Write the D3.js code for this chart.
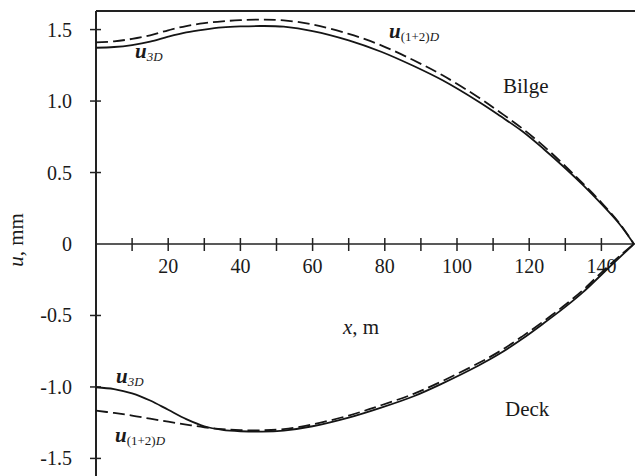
<!DOCTYPE html>
<html>
<head>
<meta charset="utf-8">
<script src="https://cdn.jsdelivr.net/npm/d3@7"></script>
<style>
  body { margin: 0; background: #fff; }
  svg { display: block; font-family: "Liberation Serif", "Times New Roman", serif; }
  .curve { fill: none; stroke: #151515; stroke-width: 1.8; }
  .dash { stroke-dasharray: 12,5; }
  text { fill: #1a1a1a; }
</style>
</head>
<body>
<div id="chart"></div>
<script>
// x positions along the hull (m)
var xs = [0, 5, 10, 15, 20, 25, 30, 35, 40, 46, 52, 60, 70, 79, 88, 96, 106, 112, 118, 124, 130, 135, 140, 145, 149];

// bilge displacement, mm
var bilge3D  = [1.373, 1.378, 1.392, 1.415, 1.45, 1.48, 1.50, 1.515, 1.522, 1.525, 1.52, 1.49, 1.425, 1.345, 1.245, 1.145, 0.995, 0.895, 0.79, 0.665, 0.53, 0.41, 0.28, 0.14, 0];
var bilge12D = [1.41, 1.418, 1.435, 1.46, 1.495, 1.525, 1.545, 1.558, 1.566, 1.57, 1.565, 1.535, 1.47, 1.39, 1.285, 1.18, 1.025, 0.92, 0.81, 0.685, 0.545, 0.42, 0.29, 0.145, 0];

// deck displacement, mm
var deck3D  = [-1.002, -1.015, -1.045, -1.095, -1.16, -1.225, -1.275, -1.30, -1.31, -1.313, -1.305, -1.275, -1.215, -1.145, -1.065, -0.975, -0.85, -0.765, -0.665, -0.555, -0.44, -0.335, -0.215, -0.095, 0];
var deck12D = [-1.166, -1.182, -1.2, -1.222, -1.243, -1.263, -1.282, -1.295, -1.302, -1.303, -1.295, -1.262, -1.2, -1.128, -1.048, -0.958, -0.833, -0.748, -0.648, -0.54, -0.425, -0.32, -0.2, -0.085, 0];

var xMinor = [10, 20, 30, 40, 50, 60, 70, 80, 90, 100, 110, 120, 130, 140];
var xLabels = [20, 40, 60, 80, 100, 120, 140];
var yTicks = [1.5, 1.0, 0.5, 0, -0.5, -1.0, -1.5];
var yTickLabels = ["1.5", "1.0", "0.5", "0", "-0.5", "-1.0", "-1.5"];

var width = 635, height = 476;

var svg = d3.select("#chart").append("svg")
    .attr("width", width)
    .attr("height", height);

var x = d3.scaleLinear().domain([0, 150]).range([96, 637.5]);
var y = d3.scaleLinear().domain([-1.63, 1.63]).range([477, 11]);

// frame: top border and left axis
svg.append("line")
    .attr("x1", x(0)).attr("x2", width)
    .attr("y1", y(1.63)).attr("y2", y(1.63))
    .attr("stroke", "#222").attr("stroke-width", 2);
svg.append("line")
    .attr("x1", x(0)).attr("x2", x(0))
    .attr("y1", y(1.63)).attr("y2", height)
    .attr("stroke", "#222").attr("stroke-width", 2);

// zero line with crossing ticks
svg.append("line")
    .attr("x1", x(0)).attr("x2", width)
    .attr("y1", y(0)).attr("y2", y(0))
    .attr("stroke", "#222").attr("stroke-width", 1.6);

svg.append("g").selectAll("line")
    .data(xMinor)
    .enter().append("line")
    .attr("x1", d => x(d)).attr("x2", d => x(d))
    .attr("y1", y(0) - 6).attr("y2", y(0) + 7)
    .attr("stroke", "#222").attr("stroke-width", 1.5);

svg.append("g").selectAll("text")
    .data(xLabels)
    .enter().append("text")
    .attr("x", d => x(d))
    .attr("y", y(0) + 29)
    .attr("text-anchor", "middle")
    .attr("font-size", 20)
    .text(d => d);

// y ticks
svg.append("g").selectAll("line")
    .data(yTicks.filter(d => d != 0))
    .enter().append("line")
    .attr("x1", x(0) - 6).attr("x2", x(0) + 5)
    .attr("y1", d => y(d)).attr("y2", d => y(d))
    .attr("stroke", "#222").attr("stroke-width", 1.5);

svg.append("g").selectAll("text")
    .data(yTicks)
    .enter().append("text")
    .attr("x", 72)
    .attr("y", d => y(d) + 7)
    .attr("text-anchor", "end")
    .attr("font-size", 20)
    .text((d, i) => yTickLabels[i]);

// curves
var line = d3.line()
    .x(d => x(d[0]))
    .y(d => y(d[1]))
    .curve(d3.curveCatmullRom);

function series(vals) { return xs.map((v, i) => [v, vals[i]]); }

svg.append("path").attr("class", "curve").attr("d", line(series(bilge3D)));
svg.append("path").attr("class", "curve dash").attr("d", line(series(bilge12D)));
svg.append("path").attr("class", "curve").attr("d", line(series(deck3D)));
svg.append("path").attr("class", "curve dash").attr("d", line(series(deck12D)));

// axis titles
svg.append("text")
    .attr("transform", "translate(23,240) rotate(-90)")
    .attr("text-anchor", "middle")
    .attr("font-size", 21)
    .html('<tspan font-style="italic">u</tspan>, mm');

svg.append("text")
    .attr("x", 361).attr("y", 334)
    .attr("text-anchor", "middle")
    .attr("font-size", 21)
    .html('<tspan font-style="italic">x</tspan>, m');

svg.append("text").attr("x", 503).attr("y", 93).attr("font-size", 21).text("Bilge");
svg.append("text").attr("x", 505).attr("y", 416).attr("font-size", 21).text("Deck");

// curve labels
function curveLabel(px, py, sub) {
    var t = svg.append("text").attr("x", px).attr("y", py);
    t.append("tspan").attr("font-style", "italic").attr("font-weight", "bold").attr("font-size", 21).text("u");
    if (sub == "3D") {
        t.append("tspan").attr("font-style", "italic").attr("font-size", 13).attr("dy", 3).text("3D");
    } else {
        t.append("tspan").attr("font-size", 13).attr("dy", 3).text("(1+2)");
        t.append("tspan").attr("font-style", "italic").attr("font-size", 13).text("D");
    }
}
curveLabel(135, 58, "3D");
curveLabel(389, 38, "12D");
curveLabel(116, 383, "3D");
curveLabel(115, 442, "12D");
</script>
</body>
</html>
